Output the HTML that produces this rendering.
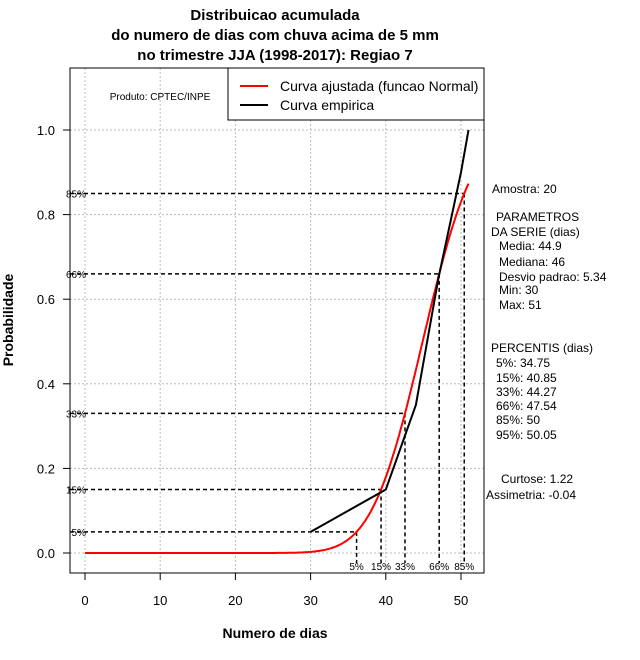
<!DOCTYPE html>
<html><head><meta charset="utf-8"><style>
body{margin:0;background:#fff;}
svg{display:block;font-family:"Liberation Sans",Arial,sans-serif;}
</style></head><body>
<svg id="chart" width="640" height="660" viewBox="0 0 640 660">
<g font-size="15" font-weight="bold" text-anchor="middle">
<text x="275" y="20">Distribuicao acumulada</text>
<text x="275" y="40">do numero de dias com chuva acima de 5 mm</text>
<text x="275" y="60">no trimestre JJA (1998-2017): Regiao 7</text>
</g>
<g id="grid"></g>
<g id="marks"></g>
<rect x="70" y="68" width="414" height="505" fill="none" stroke="#000"/>
<g id="axes"></g>
<text x="160" y="100" font-size="10" text-anchor="middle">Produto: CPTEC/INPE</text>
<g>
<rect x="228" y="68" width="256" height="52" fill="#fff" stroke="#000"/>
<line x1="240" y1="86" x2="268" y2="86" stroke="#f00" stroke-width="2"/>
<text x="280" y="91" font-size="14">Curva ajustada (funcao Normal)</text>
<line x1="240" y1="105" x2="268" y2="105" stroke="#000" stroke-width="2"/>
<text x="280" y="110" font-size="14">Curva empirica</text>
</g>
<text x="275" y="638" font-size="14" font-weight="bold" text-anchor="middle">Numero de dias</text>
<text transform="translate(13,320) rotate(-90)" font-size="14" font-weight="bold" text-anchor="middle">Probabilidade</text>
<g font-size="12">
<text x="492" y="193">Amostra: 20</text>
<text x="496" y="221">PARAMETROS</text>
<text x="491" y="236">DA SERIE (dias)</text>
<text x="499" y="250">Media: 44.9</text>
<text x="499" y="266">Mediana: 46</text>
<text x="499" y="281">Desvio padrao: 5.34</text>
<text x="499" y="294">Min: 30</text>
<text x="499" y="309">Max: 51</text>
<text x="491" y="352">PERCENTIS (dias)</text>
<text x="496" y="367">5%: 34.75</text>
<text x="496" y="382">15%: 40.85</text>
<text x="496" y="396">33%: 44.27</text>
<text x="496" y="410">66%: 47.54</text>
<text x="496" y="424">85%: 50</text>
<text x="496" y="439">95%: 50.05</text>
<text x="501" y="483">Curtose: 1.22</text>
<text x="486" y="499">Assimetria: -0.04</text>
</g>
</svg>
<script>
const xTicks=[0,10,20,30,40,50];
const yTicks=[0,0.2,0.4,0.6,0.8,1.0];
const yTickLabels=["0.0","0.2","0.4","0.6","0.8","1.0"];
const empX=[30,40,44,47,50,51];
const empP=[0.05,0.15,0.35,0.65,0.90,1.0];
const fitMean=44.9;
const fitSd=5.34;
const fitMax=51;
const pctLevels=[0.05,0.15,0.33,0.66,0.85];
const pctLabels=["5%","15%","33%","66%","85%"];
const pctZ=[-1.645,-1.036,-0.44,0.412,1.036];
const X=v=>85+v*7.52;
const Y=p=>553-p*423;
const NS="http://www.w3.org/2000/svg";
function mk(tag,attrs,parent){const e=document.createElementNS(NS,tag);for(const k in attrs)e.setAttribute(k,attrs[k]);parent.appendChild(e);return e;}
const grid=document.getElementById('grid'),marks=document.getElementById('marks'),axes=document.getElementById('axes');
xTicks.forEach((t,i)=>{
 const g=mk('line',{x1:X(t),x2:X(t),y1:68,y2:573,stroke:'#bbb','stroke-dasharray':'2,2'},grid);
 
 
 const tk=mk('line',{x1:X(t),x2:X(t),y1:573,y2:580,stroke:'#000'},axes);
 
 
 const l=mk('text',{x:X(t),y:605,'font-size':13,'text-anchor':'middle'},axes);l.textContent=t;
 
 
});
yTicks.forEach((t,i)=>{
 const g=mk('line',{x1:70,x2:484,y1:Y(t),y2:Y(t),stroke:'#bbb','stroke-dasharray':'2,2'},grid);
 
 
 const tk=mk('line',{x1:63,x2:70,y1:Y(t),y2:Y(t),stroke:'#000'},axes);
 
 
 const l=mk('text',{x:55,y:Y(t)+5,'font-size':13,'text-anchor':'end'},axes);l.textContent=yTickLabels[i];
 
 
});
function erf(x){const s=x<0?-1:1;x=Math.abs(x);const t=1/(1+0.3275911*x);const y=1-(((((1.061405429*t-1.453152027)*t)+1.421413741)*t-0.284496736)*t+0.254829592)*t*Math.exp(-x*x);return s*y;}
const cdf=v=>0.5*(1+erf((v-fitMean)/(fitSd*Math.SQRT2)));
pctLevels.forEach((p,i)=>{
 const q=fitMean+pctZ[i]*fitSd;
 const h=mk('line',{x1:70,x2:X(q),y1:Y(p),y2:Y(p),stroke:'#000','stroke-width':1.5,'stroke-dasharray':'4,3'},marks);
 
 
 const v=mk('line',{x1:X(q),x2:X(q),y1:Y(p),y2:563,stroke:'#000','stroke-width':1.5,'stroke-dasharray':'4,3'},marks);
 
 
 const lt=mk('text',{x:86,y:Y(p)+4,'font-size':10,'text-anchor':'end'},marks);lt.textContent=pctLabels[i];
 
 
 const lb=mk('text',{x:X(q),y:570,'font-size':10,'text-anchor':'middle'},marks);lb.textContent=pctLabels[i];
 
 
});
let d='';for(let v=0;v<=fitMax+1e-9;v+=0.25){d+=(d?'L':'M')+X(v).toFixed(1)+','+Y(cdf(v)).toFixed(1);}
const fit=mk('path',{d:d,fill:'none',stroke:'#f00','stroke-width':2},marks);


const emp=mk('polyline',{points:empX.map((x,i)=>X(x)+','+Y(empP[i])).join(' '),fill:'none',stroke:'#000','stroke-width':2},marks);


</script>
</body></html>
